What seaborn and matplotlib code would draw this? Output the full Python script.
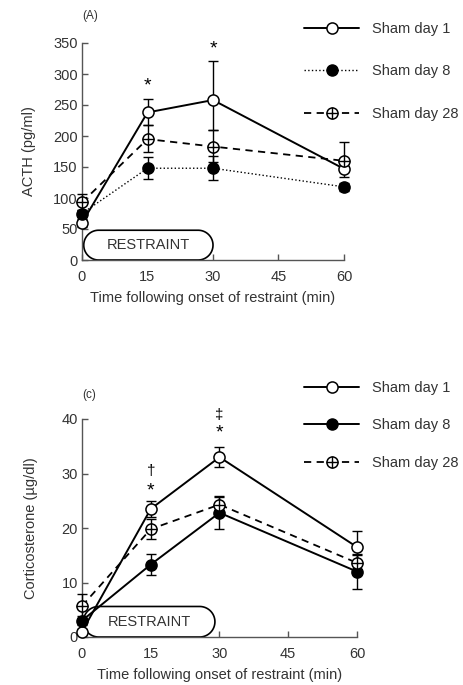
import numpy as np
import pandas as pd
import matplotlib
matplotlib.use("Agg")
import matplotlib.pyplot as plt
from matplotlib.lines import Line2D
from matplotlib.patches import Polygon
import seaborn as sns

# ---------------- data ----------------
time = [0, 15, 30, 60]
series = ["Sham day 1", "Sham day 8", "Sham day 28"]

acth_day1 = [60, 238, 258, 147]
acth_day1_lo = [6, 20, 48, 13]
acth_day1_hi = [6, 22, 63, 13]
acth_day8 = [75, 148, 148, 118]
acth_day8_lo = [6, 18, 19, 6]
acth_day8_hi = [6, 18, 19, 6]
acth_day28 = [93, 195, 183, 160]
acth_day28_lo = [12, 20, 25, 12]
acth_day28_hi = [13, 22, 27, 30]

cort_day1 = [1.0, 23.5, 33.0, 16.5]
cort_day1_err = [0.5, 1.5, 1.8, 2.9]
cort_day8 = [3.0, 13.3, 22.8, 12.0]
cort_day8_err = [0.8, 1.9, 2.9, 3.2]
cort_day28 = [5.7, 19.8, 24.3, 13.6]
cort_day28_err = [2.2, 1.8, 1.6, 1.5]

x_ticks = [0, 15, 30, 45, 60]
acth_yticks = [0, 50, 100, 150, 200, 250, 300, 350]
cort_yticks = [0, 10, 20, 30, 40]

acth_marks = [(15, 280, "*"), (30, 341, "*")]
cort_marks = [(15, 26.8, "*"), (15, 30.4, "†"), (30, 37.4, "*"), (30, 40.7, "‡")]

# ---------------- style ----------------
sns.set_style("ticks")
plt.rcParams["font.family"] = ["Liberation Sans", "DejaVu Sans"]
TXT = "#333333"
SP = "#555555"
FS = 10.5

fig = plt.figure(figsize=(4.64, 6.85), dpi=100)
axA = fig.add_axes([82 / 464, 425 / 685, 262 / 464, 217 / 685])
axC = fig.add_axes([82 / 464, 48 / 685, 275 / 464, 218 / 685])

MS = 8


def draw_series(ax, y, lo, hi, ls, kind, lw):
    df = pd.DataFrame({"time": time, "value": y})
    mfc = "black" if kind == "filled" else "white"
    ax.errorbar(time, y, yerr=[lo, hi], fmt="none", ecolor="black",
                elinewidth=1.0, capsize=3.5, capthick=1.0, zorder=3, clip_on=False)
    sns.lineplot(data=df, x="time", y="value", ax=ax, color="black",
                 linestyle=ls, linewidth=lw, marker="o", markersize=MS,
                 markerfacecolor=mfc, markeredgecolor="black", markeredgewidth=1.1,
                 zorder=4, clip_on=False, legend=False)
    if kind == "cross":
        ax.plot(time, y, linestyle="none", marker="+", markersize=MS,
                markeredgewidth=1.0, color="black", zorder=5, clip_on=False)


def style_axes(ax, ymax, yticks, ylabel, ylabelpad):
    ax.set_xlim(0, 60)
    ax.set_ylim(0, ymax)
    ax.set_xticks(x_ticks)
    ax.set_yticks(yticks)
    sns.despine(ax=ax)
    for s in ["left", "bottom"]:
        ax.spines[s].set_color(SP)
        ax.spines[s].set_linewidth(1.0)
    ax.tick_params(direction="in", length=4, width=1, colors=SP,
                   labelcolor=TXT, labelsize=FS, pad=3)
    ax.tick_params(axis="x", pad=7)
    ax.set_xlabel("Time following onset of restraint (min)", fontsize=FS, color=TXT, labelpad=5)
    ax.set_ylabel(ylabel, fontsize=FS, color=TXT, labelpad=ylabelpad)


def restraint_box(ax, x0, x1, y0, y1):
    # stadium outline (flat top/bottom, semicircular ends) built in pixel units
    pos = ax.get_position()
    wpx = pos.width * fig.get_figwidth() * fig.dpi
    hpx = pos.height * fig.get_figheight() * fig.dpi
    xl = ax.get_xlim(); yl = ax.get_ylim()
    sx = wpx / (xl[1] - xl[0]); sy = hpx / (yl[1] - yl[0])
    rpx = (y1 - y0) * sy / 2
    rx = rpx / sx
    ry = (y1 - y0) / 2
    yc = (y0 + y1) / 2
    t1 = np.linspace(-np.pi / 2, np.pi / 2, 60)
    t2 = np.linspace(np.pi / 2, 3 * np.pi / 2, 60)
    right = np.column_stack([x1 - rx + rx * np.cos(t1), yc + ry * np.sin(t1)])
    left = np.column_stack([x0 + rx + rx * np.cos(t2), yc + ry * np.sin(t2)])
    verts = np.vstack([right, left])
    poly = Polygon(verts, closed=True, facecolor="white", edgecolor="black",
                   linewidth=1.2, zorder=2, clip_on=False)
    ax.add_patch(poly)
    ax.text((x0 + x1) / 2, yc, "RESTRAINT", ha="center", va="center",
            fontsize=FS, color=TXT, zorder=2.5)


# ---------------- panel A ----------------
style_axes(axA, 350, acth_yticks, "ACTH (pg/ml)", 12.5)
restraint_box(axA, 0.4, 30, 0, 48)
draw_series(axA, acth_day1, acth_day1_lo, acth_day1_hi, "-", "open", 1.4)
draw_series(axA, acth_day8, acth_day8_lo, acth_day8_hi, ":", "filled", 1.0)
draw_series(axA, acth_day28, acth_day28_lo, acth_day28_hi, (0, (4, 3)), "cross", 1.3)
for x, y, s in acth_marks:
    axA.text(x, y, s, ha="center", va="center", fontsize=14, color="black")
fig.text(82 / 464, 1 - 16 / 685, "(A)", fontsize=8.5, color=TXT, ha="left", va="center")

# ---------------- panel C ----------------
style_axes(axC, 40, cort_yticks, "Corticosterone (µg/dl)", 17)
restraint_box(axC, 0.3, 29, 0, 5.6)
draw_series(axC, cort_day1, cort_day1_err, cort_day1_err, "-", "open", 1.4)
draw_series(axC, cort_day8, cort_day8_err, cort_day8_err, "-", "filled", 1.4)
draw_series(axC, cort_day28, cort_day28_err, cort_day28_err, (0, (4, 3)), "cross", 1.3)
for x, y, s in cort_marks:
    fs = 14 if s == "*" else 11
    axC.text(x, y, s, ha="center", va="center", fontsize=fs, color="black")
fig.text(82 / 464, 1 - 395 / 685, "(c)", fontsize=8.5, color=TXT, ha="left", va="center")


# ---------------- legends ----------------
def handles(day8_ls):
    h1 = Line2D([], [], color="black", ls="-", lw=1.4, marker="o", ms=MS,
                mfc="white", mec="black", mew=1.1)
    h2 = Line2D([], [], color="black", ls=day8_ls, lw=1.0 if day8_ls == ":" else 1.4,
                marker="o", ms=MS, mfc="black", mec="black")
    h3a = Line2D([], [], color="black", ls=(0, (4, 3)), lw=1.3, marker="o", ms=MS,
                 mfc="white", mec="black", mew=1.1)
    h3b = Line2D([], [], color="black", ls="none", marker="+", ms=MS, mew=1.0)
    return [h1, h2, (h3a, h3b)]


fig.legend(handles(":"), series, loc="upper left",
           bbox_to_anchor=(304 / 464, 1 - 22 / 685), frameon=False,
           fontsize=FS, labelcolor=TXT, handlelength=3.8, handletextpad=0.85,
           labelspacing=1.95, borderpad=0, borderaxespad=0)
fig.legend(handles("-"), series, loc="upper left",
           bbox_to_anchor=(304 / 464, 1 - 381 / 685), frameon=False,
           fontsize=FS, labelcolor=TXT, handlelength=3.8, handletextpad=0.85,
           labelspacing=1.6, borderpad=0, borderaxespad=0)

fig.savefig("out.png", dpi=100)
